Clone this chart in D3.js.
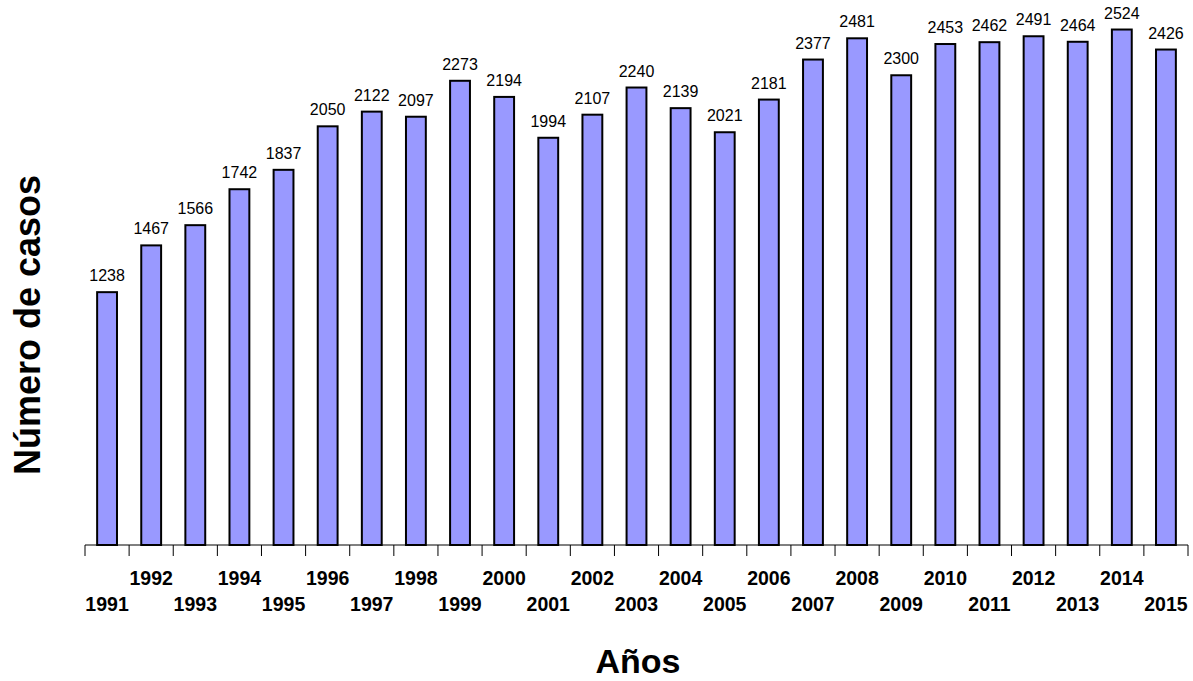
<!DOCTYPE html>
<html>
<head>
<meta charset="utf-8">
<script src="https://cdn.jsdelivr.net/npm/d3@7"></script>
<style>
  html, body { margin: 0; padding: 0; background: #fff; }
  svg { display: block; font-family: Arial, "Liberation Sans", sans-serif; }
</style>
</head>
<body>
<svg id="chart" width="1193" height="681"></svg>
<script>
const years = ["1991","1992","1993","1994","1995","1996","1997","1998","1999","2000","2001","2002","2003","2004","2005","2006","2007","2008","2009","2010","2011","2012","2013","2014","2015"];
const cases = [1238,1467,1566,1742,1837,2050,2122,2097,2273,2194,1994,2107,2240,2139,2021,2181,2377,2481,2300,2453,2462,2491,2464,2524,2426];
const xTitle = "Años";
const yTitle = "Número de casos";

const svg = d3.select("#chart");
const x = d3.scaleBand().domain(years).range([85, 1188]).paddingInner(0.55).paddingOuter(0.275);
const xb = d3.scaleBand().domain(years).range([85, 1188]);
const y = d3.scaleLinear().domain([0, 2600]).range([545, 14]);

// axis line and ticks at category boundaries
const g = svg.append("g");
g.append("line").attr("x1", xb.range()[0]).attr("x2", xb.range()[1])
  .attr("y1", y(0)).attr("y2", y(0)).attr("stroke", "#000").attr("stroke-width", 1);
const bounds = years.map(d => xb(d)).concat([xb.range()[1]]);
g.selectAll("line.tick").data(bounds).enter().append("line")
  .attr("class", "tick")
  .attr("x1", d => d).attr("x2", d => d)
  .attr("y1", y(0)).attr("y2", y(0) + 11)
  .attr("stroke", "#000").attr("stroke-width", 1);

// bars
svg.selectAll("rect.bar").data(years).enter().append("rect")
  .attr("class", "bar")
  .attr("x", d => x(d))
  .attr("width", x.bandwidth())
  .attr("y", (d, i) => y(cases[i]))
  .attr("height", (d, i) => y(0) - y(cases[i]))
  .attr("fill", "#9999FF")
  .attr("stroke", "#000")
  .attr("stroke-width", 2);

// value labels
svg.selectAll("text.val").data(years).enter().append("text")
  .attr("class", "val")
  .attr("x", d => x(d) + x.bandwidth() / 2)
  .attr("y", (d, i) => y(cases[i]) - 11)
  .attr("text-anchor", "middle")
  .attr("font-size", 16)
  .attr("fill", "#000")
  .text((d, i) => cases[i]);

// year labels, staggered
svg.selectAll("text.year").data(years).enter().append("text")
  .attr("class", "year")
  .attr("x", d => x(d) + x.bandwidth() / 2)
  .attr("y", (d, i) => i % 2 === 1 ? 585 : 611)
  .attr("text-anchor", "middle")
  .attr("font-size", 19.5)
  .attr("font-weight", "bold")
  .attr("fill", "#000")
  .text(d => d);

// axis titles
svg.append("text")
  .attr("x", 638).attr("y", 673)
  .attr("text-anchor", "middle")
  .attr("font-size", 34).attr("font-weight", "bold")
  .text(xTitle);

svg.append("text")
  .attr("transform", "translate(40,325) rotate(-90)")
  .attr("text-anchor", "middle")
  .attr("font-size", 36).attr("font-weight", "bold")
  .text(yTitle);
</script>
</body>
</html>
